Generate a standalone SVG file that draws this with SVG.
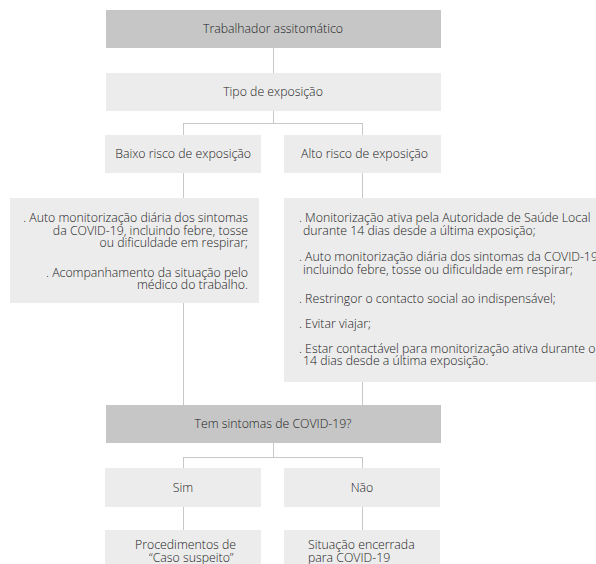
<svg xmlns="http://www.w3.org/2000/svg" width="596" height="564" viewBox="0 0 596 564">
<style>
text{font-family:"Open Sans","Noto Sans","Liberation Sans",sans-serif;font-size:12.3px;font-weight:300;fill:#222222}
.dark{fill:#c6c6c6}
.light{fill:#ececec}
.c{text-anchor:middle}
.r{text-anchor:end}
#connectors path{stroke:#c8c8c8;stroke-width:1;fill:none}
</style>
<rect width="596" height="564" fill="#ffffff"/>
<g id="connectors">
<path d="M273.5 48V73"/>
<path d="M273.5 111V123.5M183.5 123.5H362.5M183.5 123V135M362.5 123V135"/>
<path d="M183.5 173V198M362.5 173V198"/>
<path d="M183.5 303V405M362.5 382V405"/>
<path d="M273.5 443V457.5M183.5 457.5H362.5M183.5 457V468M362.5 457V468"/>
<path d="M183.5 507V530M362.5 507V530"/>
</g>
<g id="n-trabalhador">
<rect class="dark" x="106" y="10" width="335" height="38"/>
<text class="c" x="273" y="33">Trabalhador assitomático</text>
</g>
<g id="n-tipo">
<rect class="light" x="106" y="73" width="335" height="38"/>
<text class="c" x="273" y="96">Tipo de exposição</text>
</g>
<g id="n-baixo">
<rect class="light" x="105" y="135" width="156" height="38"/>
<text class="r" x="251" y="158">Baixo risco de exposição</text>
</g>
<g id="n-alto">
<rect class="light" x="284" y="135" width="157" height="38"/>
<text x="301" y="158">Alto risco de exposição</text>
</g>
<g id="n-baixo-detalhe">
<rect class="light" x="10" y="198" width="249" height="105"/>
<text class="r" x="248" y="222">. Auto monitorização diária dos sintomas</text>
<text class="r" x="248" y="234.5">da COVID-19, incluindo febre, tosse</text>
<text class="r" x="248" y="247">ou dificuldade em respirar;</text>
<text class="r" x="248" y="276.5">. Acompanhamento da situação pelo</text>
<text class="r" x="248" y="289">médico do trabalho.</text>
</g>
<g id="n-alto-detalhe">
<rect class="light" x="284" y="198" width="320" height="184"/>
<text x="299" y="222">. Monitorização ativa pela Autoridade de Saúde Local</text>
<text x="303" y="234.5">durante 14 dias desde a última exposição;</text>
<text x="299" y="261">. Auto monitorização diária dos sintomas da COVID-19,</text>
<text x="303" y="273.5">incluindo febre, tosse ou dificuldade em respirar;</text>
<text x="299" y="302.5">. Restringor o contacto social ao indispensável;</text>
<text x="299" y="327.5">. Evitar viajar;</text>
<text x="299" y="352.5">. Estar contactável para monitorização ativa durante o</text>
<text x="303" y="365">14 dias desde a última exposição.</text>
</g>
<g id="n-sintomas">
<rect class="dark" x="106" y="405" width="335" height="38"/>
<text class="c" x="273" y="428">Tem sintomas de COVID-19?</text>
</g>
<g id="n-sim">
<rect class="light" x="105" y="468" width="156" height="39"/>
<text class="c" x="183" y="492">Sim</text>
</g>
<g id="n-nao">
<rect class="light" x="284" y="468" width="156" height="39"/>
<text class="c" x="362" y="492">Não</text>
</g>
<g id="n-procedimentos">
<rect class="light" x="105" y="530" width="156" height="40"/>
<text x="135" y="549">Procedimentos de</text>
<text x="149" y="562">“Caso suspeito”</text>
</g>
<g id="n-encerrada">
<rect class="light" x="284" y="530" width="156" height="40"/>
<text x="308" y="549">Situação encerrada</text>
<text x="308" y="562">para COVID-19</text>
</g>
</svg>
